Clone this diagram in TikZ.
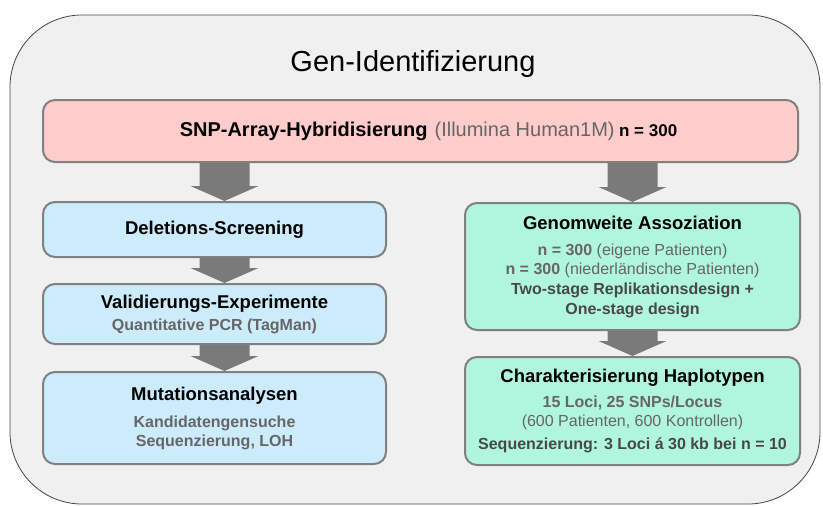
\documentclass[tikz,border=0pt]{standalone}
\usepackage{fontspec}
\setmainfont{Liberation Sans}
\usetikzlibrary{calc}

\definecolor{pinkfill}{RGB}{255,204,204}
\definecolor{bluefill}{RGB}{204,236,252}
\definecolor{greenfill}{RGB}{176,245,222}
\definecolor{boxline}{RGB}{128,128,128}
\definecolor{outerfill}{RGB}{240,240,240}
\definecolor{outerline}{RGB}{70,70,70}
\definecolor{arrowgray}{RGB}{122,122,122}
\definecolor{subgray}{RGB}{102,102,102}
\definecolor{deepgray}{RGB}{72,72,72}

\tikzset{
  stagebox/.style={draw=boxline, line width=2pt, rounded corners=12pt, align=center,
    inner sep=0pt, text=subgray, font=\fontsize{16}{19}\selectfont\bfseries},
  leftbox/.style={stagebox, fill=bluefill, minimum width=343pt},
  rightbox/.style={stagebox, fill=greenfill, minimum width=335pt},
}

% heading line inside a box
\newcommand{\boxhead}[1]{{\fontsize{18.5}{19}\selectfont\bfseries\color{black}#1}}
% grey block arrow from box #1 down to box #2, shifted by #3
\newcommand{\blockarrow}[3]{%
  \fill[arrowgray] let \p1=(#1.south), \p2=(#2.north) in
    (\x2+#3pt-25pt,\y1) -- (\x2+#3pt+25pt,\y1) -- (\x2+#3pt+25pt,\y2+15pt)
    -- (\x2+#3pt+34pt,\y2+15pt) -- (\x2+#3pt,\y2) -- (\x2+#3pt-34pt,\y2+15pt)
    -- (\x2+#3pt-25pt,\y2+15pt) -- cycle;}

\begin{document}
\begin{tikzpicture}[x=1pt, y=-1pt]
  % page and outer frame
  \fill[white] (0,0) rectangle (823,506);
  \useasboundingbox (0,0) rectangle (823,506);
  \draw[outerline, line width=0.8pt, fill=outerfill, rounded corners=72pt] (10,15) rectangle (820,504);

  % title
  \node (title) at (413,64) {\fontsize{29}{34}\selectfont Gen-Identifizierung};

  % top box
  \node[stagebox, fill=pinkfill, minimum width=755pt, minimum height=62pt, text=black] (snp) at (420.5,131)
    {\hspace*{16pt}{\fontsize{20}{24}\selectfont\bfseries SNP-Array-Hybridisierung}\hspace{7pt}%
     {\fontsize{20}{24}\selectfont\mdseries\color{subgray}(Illumina Human1M)} {\fontsize{17}{24}\selectfont\bfseries n = 300}};

  % left column
  \node[leftbox, minimum height=55pt] (del) at (214.5,229.5) {\boxhead{Deletions-Screening}};
  \node[leftbox, minimum height=60pt] (val) at (214.5,314)
    {\boxhead{Validierungs-Experimente}\\[3pt] Quantitative PCR (TagMan)};
  \node[leftbox, minimum height=92pt] (mut) at (214.5,418)
    {\boxhead{Mutationsanalysen}\\[8pt] Kandidatengensuche\\ Sequenzierung, LOH};

  % right column
  \node[rightbox, minimum height=127pt] (gwa) at (632.5,266.5)
    {\boxhead{Genomweite Assoziation}\\[7pt]
     n = 300 {\mdseries(eigene Patienten)}\\
     n = 300 {\mdseries(niederländische Patienten)}\\[1pt]
     {\color{deepgray}Two-stage Replikationsdesign +}\\[1pt]
     {\color{deepgray}One-stage design}};
  \node[rightbox, minimum height=108pt] (hap) at (632.5,411)
    {\boxhead{Charakterisierung Haplotypen}\\[6pt]
     15 Loci, 25 SNPs/Locus\\
     {\mdseries(600 Patienten, 600 Kontrollen)}\\[4pt]
     {\color{deepgray}Sequenzierung: 3 Loci á 30 kb bei n = 10}};

  % arrows
  \blockarrow{snp}{del}{10}
  \blockarrow{del}{val}{10}
  \blockarrow{val}{mut}{10}
  \blockarrow{snp}{gwa}{0}
  \blockarrow{gwa}{hap}{0}
\end{tikzpicture}
\end{document}
